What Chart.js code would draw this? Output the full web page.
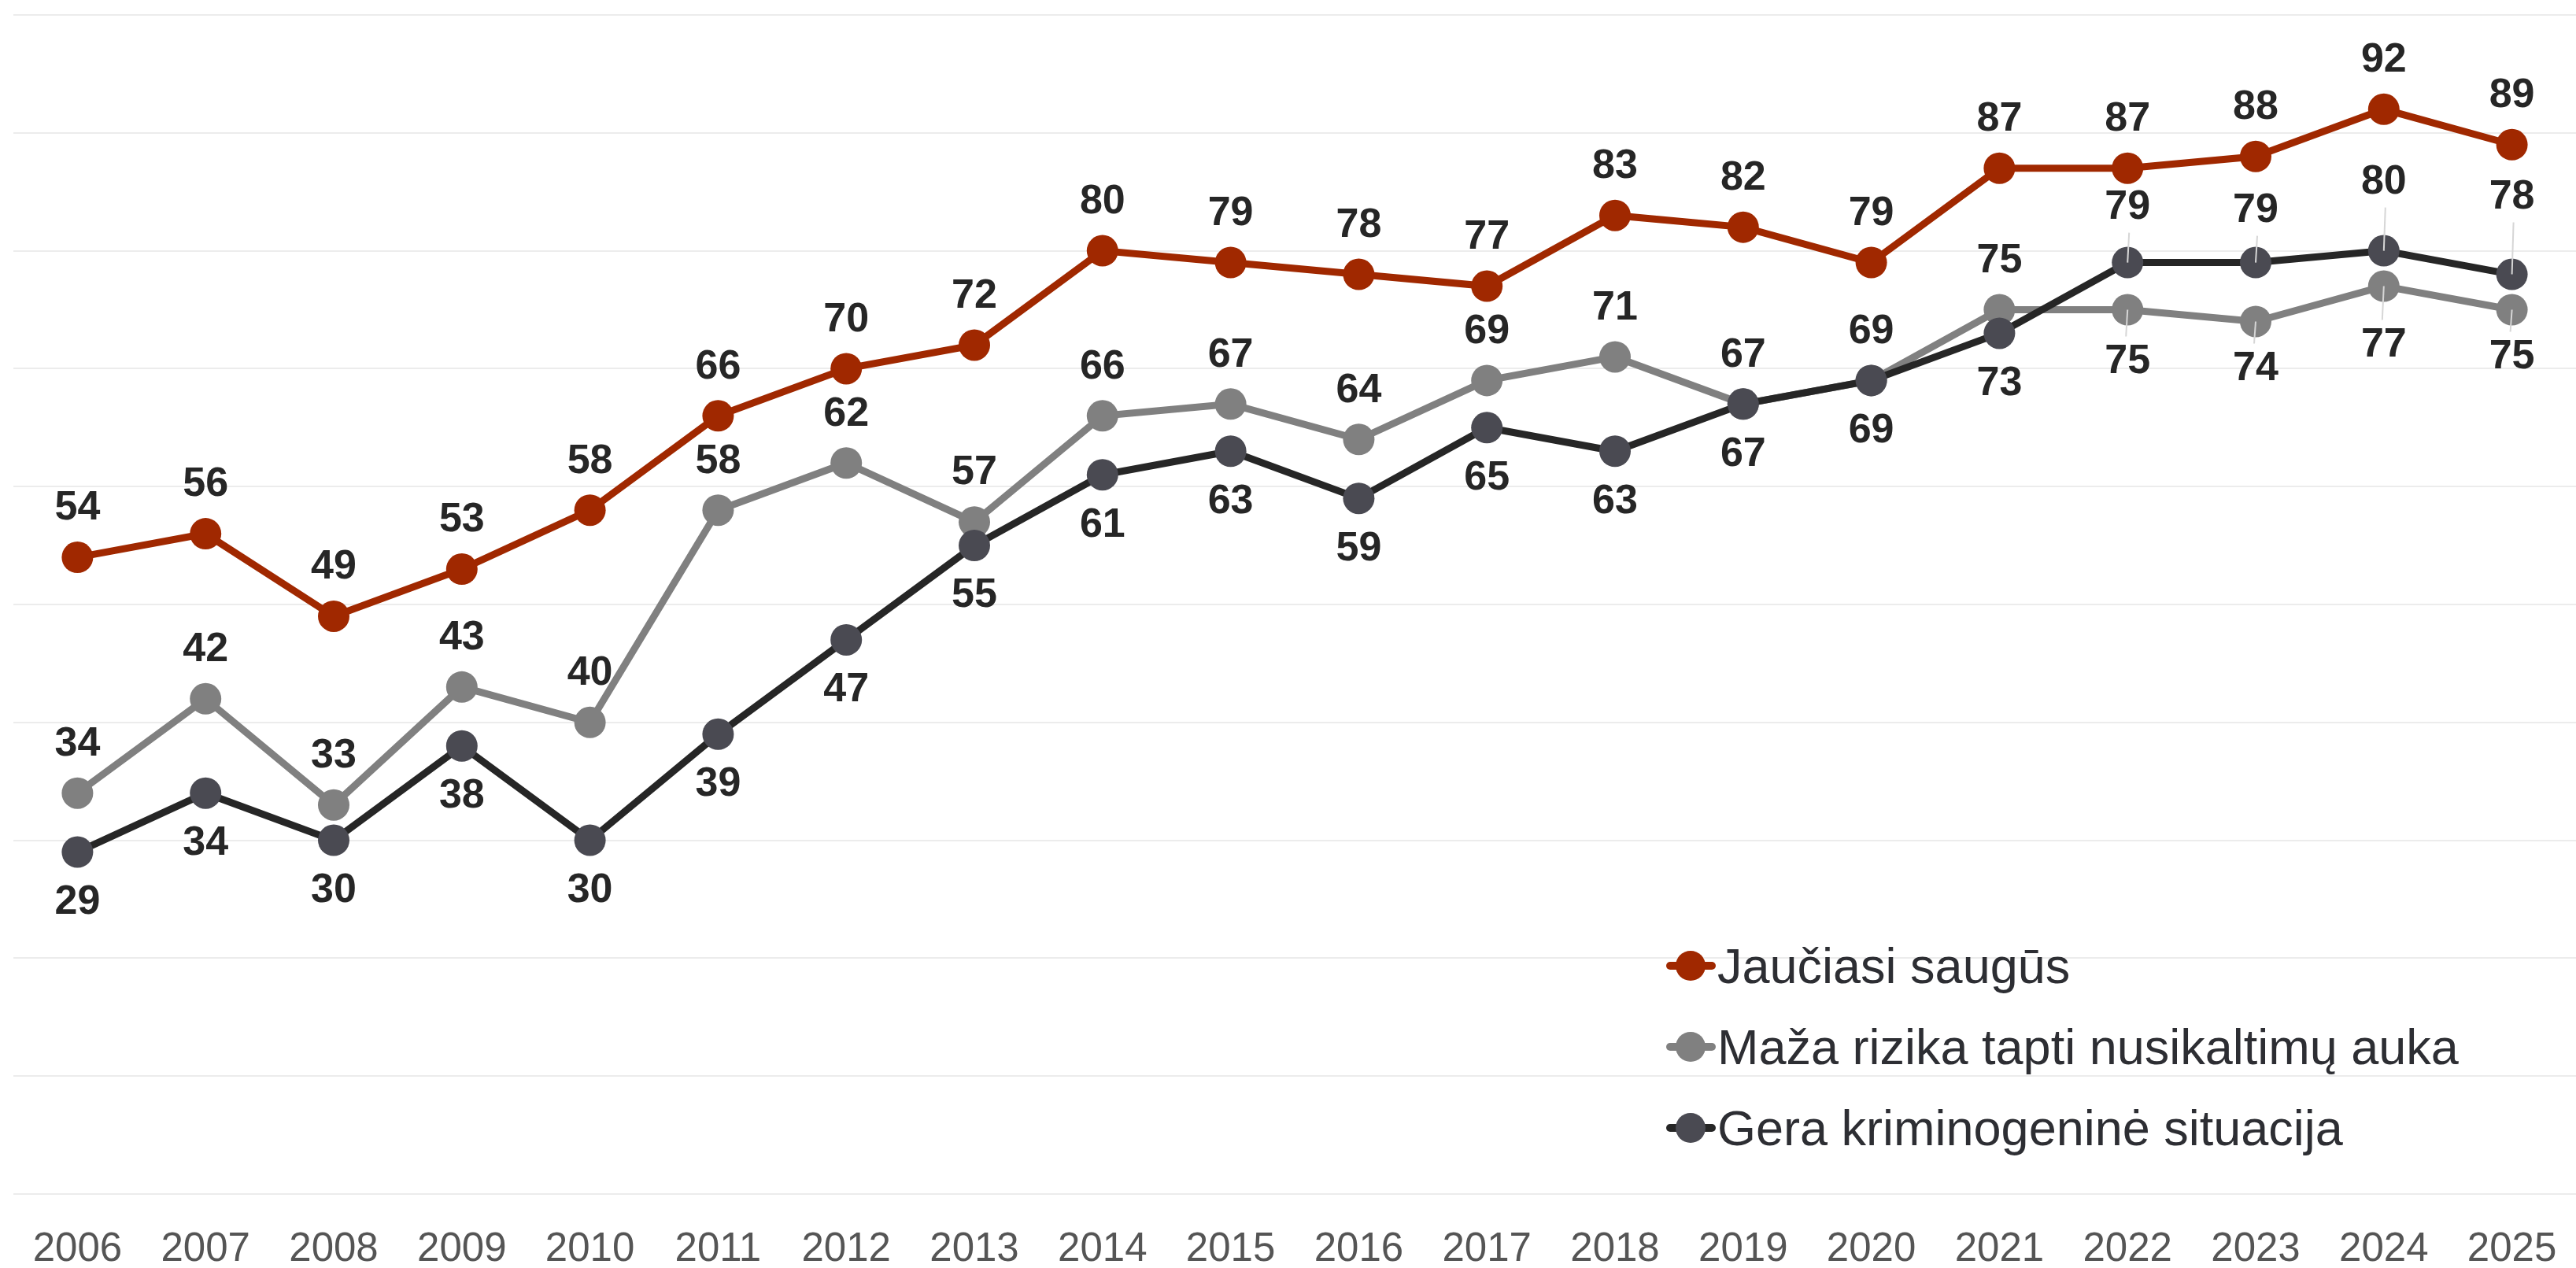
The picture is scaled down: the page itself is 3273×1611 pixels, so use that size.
<!DOCTYPE html>
<html>
<head>
<meta charset="utf-8">
<script src="https://cdn.jsdelivr.net/npm/chart.js@4.4.1/dist/chart.umd.min.js"></script>
<style>
  html, body { margin: 0; padding: 0; background: #fff; overflow: hidden; }
  canvas { display: block; }
</style>
</head>
<body>
<canvas id="myChart" width="3273" height="1611"></canvas>
<script>
// categories and series values
const years = ['2006', '2007', '2008', '2009', '2010', '2011', '2012', '2013', '2014', '2015',
  '2016', '2017', '2018', '2019', '2020', '2021', '2022', '2023', '2024', '2025'];
const feelSafe = [54, 56, 49, 53, 58, 66, 70, 72, 80, 79, 78, 77, 83, 82, 79, 87, 87, 88, 92, 89];
const lowRisk = [34, 42, 33, 43, 40, 58, 62, 57, 66, 67, 64, 69, 71, 67, 69, 75, 75, 74, 77, 75];
const goodSituation = [29, 34, 30, 38, 30, 39, 47, 55, 61, 63, 59, 65, 63, 67, 69, 73, 79, 79, 80, 78];

const FONT = '"Liberation Sans", Arial, sans-serif';

// where the value labels go: -1 above the point, 1 below
function labelSide(di, i) {
  if (di === 0) return -1;
  if (di === 1) return i < 16 ? -1 : 1;
  return i < 16 ? 1 : -1;
}
// labels pushed further away, with a thin leader line
const farOffsets = {
  1: { 16: 66, 17: 60, 18: 75, 19: 60 },
  2: { 16: 70, 17: 66, 18: 87, 19: 98 }
};

const valueLabels = {
  id: 'valueLabels',
  afterDatasetsDraw(chart) {
    const ctx = chart.ctx;
    ctx.save();
    ctx.font = 'bold 52px ' + FONT;
    ctx.textAlign = 'center';
    ctx.textBaseline = 'middle';
    chart.data.datasets.forEach((ds, di) => {
      const meta = chart.getDatasetMeta(di);
      meta.data.forEach((pt, i) => {
        const side = labelSide(di, i);
        const far = farOffsets[di] && farOffsets[di][i];
        const off = far || (side < 0 ? 62 : 64);
        const ly = pt.y + side * off;
        if (far) {
          ctx.strokeStyle = '#d6d6d6';
          ctx.lineWidth = 2;
          ctx.beginPath();
          ctx.moveTo(pt.x - 2 * side, ly - side * 32);
          ctx.lineTo(pt.x, pt.y);
          ctx.stroke();
        }
        ctx.fillStyle = '#262626';
        ctx.fillText(ds.data[i], pt.x, ly);
      });
    });
    ctx.restore();
  }
};

// legend drawn inside the plot, bottom right
const insideLegend = {
  id: 'insideLegend',
  afterDraw(chart) {
    const ctx = chart.ctx;
    ctx.save();
    ctx.font = '63px ' + FONT;
    ctx.textBaseline = 'alphabetic';
    ctx.textAlign = 'left';
    const legendOrder = [0, 1, 2];
    legendOrder.forEach((di, row) => {
      const ds = chart.data.datasets[di];
      const cy = 1227 + row * 103;
      ctx.strokeStyle = ds.borderColor;
      ctx.lineWidth = 10;
      ctx.lineCap = 'round';
      ctx.beginPath();
      ctx.moveTo(2122, cy);
      ctx.lineTo(2175, cy);
      ctx.stroke();
      ctx.fillStyle = ds.pointBackgroundColor;
      ctx.beginPath();
      ctx.arc(2148, cy, 19, 0, Math.PI * 2);
      ctx.fill();
      ctx.fillStyle = '#2d2e33';
      ctx.fillText(ds.label, 2182, cy + 22);
    });
    ctx.restore();
  }
};

const data = {
  labels: years,
  datasets: [{
    label: 'Jaučiasi saugūs',
    data: feelSafe,
    borderColor: '#a02800',
    backgroundColor: '#a02800',
    pointBackgroundColor: '#a02800',
    order: 0
  }, {
    label: 'Maža rizika tapti nusikaltimų auka',
    data: lowRisk,
    borderColor: '#808080',
    backgroundColor: '#808080',
    pointBackgroundColor: '#808080',
    order: 2
  }, {
    label: 'Gera kriminogeninė situacija',
    data: goodSituation,
    borderColor: '#262626',
    backgroundColor: '#4a4a52',
    pointBackgroundColor: '#4a4a52',
    order: 1
  }]
};
data.datasets.forEach(ds => {
  ds.borderWidth = 9;
  ds.pointRadius = 20;
  ds.pointBorderWidth = 0;
  ds.pointHoverRadius = 20;
  ds.fill = false;
  ds.tension = 0;
});

const config = {
  type: 'line',
  data: data,
  options: {
    responsive: false,
    animation: false,
    layout: { autoPadding: false, padding: { left: 17, right: 0, top: 19, bottom: 0 } },
    plugins: {
      legend: { display: false },
      tooltip: { enabled: false }
    },
    scales: {
      x: {
        offset: true,
        grid: { display: false, drawTicks: true, tickLength: 37 },
        border: { display: false },
        afterFit(scale) { scale.height = 94; },
        ticks: {
          font: { family: FONT, size: 51 },
          color: '#555555',
          padding: 3,
          maxRotation: 0,
          autoSkip: false
        }
      },
      y: {
        min: 0,
        max: 100,
        grid: { color: '#ececec', lineWidth: 2, drawTicks: false },
        border: { display: false },
        ticks: { display: false, stepSize: 10 }
      }
    }
  },
  plugins: [valueLabels, insideLegend]
};

var ctx = document.getElementById('myChart').getContext('2d');
var myChart = new Chart(ctx, config);
</script>
</body>
</html>
